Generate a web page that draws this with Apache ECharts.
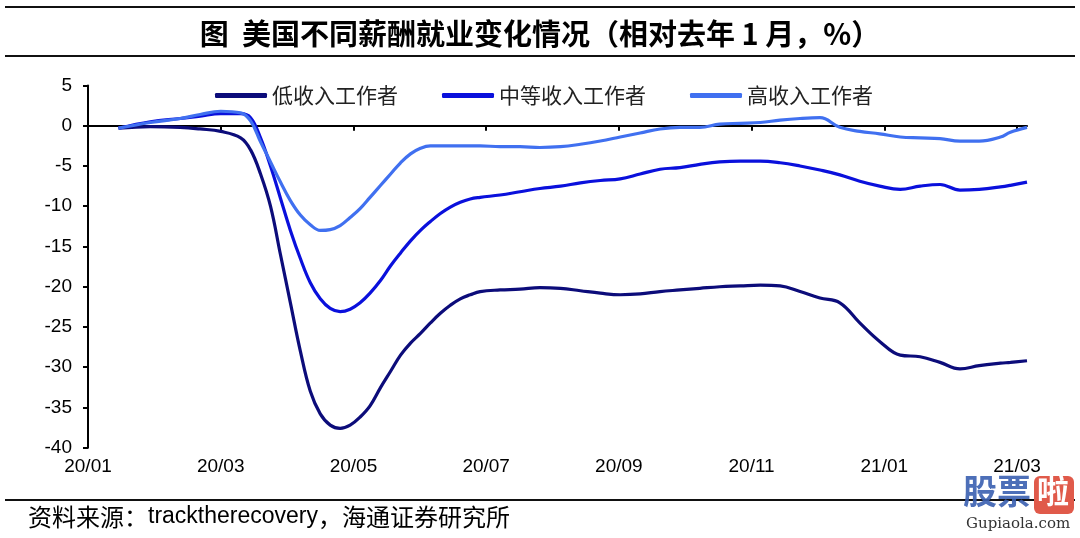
<!DOCTYPE html>
<html>
<head>
<meta charset="utf-8">
<script src="https://cdn.jsdelivr.net/npm/echarts@6/dist/echarts.min.js"></script>
<style>
html,body{margin:0;padding:0;background:#fff;}
#chart{width:1080px;height:538px;}
</style>
</head>
<body>
<div id="chart"></div>
<script>
// x positions in months since 2020-01
var months = [0.46,0.94,1.39,1.69,2.00,2.30,2.45,2.60,2.75,2.90,3.05,3.20,3.35,3.50,3.65,3.80,3.95,4.10,4.25,4.41,4.56,4.71,4.86,5.01,5.16,5.31,5.46,5.61,5.76,5.91,6.21,6.51,6.81,7.12,7.42,7.72,8.02,8.32,8.62,8.92,9.22,9.52,9.83,10.13,10.43,10.73,11.03,11.33,11.63,11.93,12.24,12.54,12.84,13.14,13.43,13.75,13.90,14.15];
var lowIncome = [-0.3,-0.1,-0.2,-0.4,-0.7,-1.5,-3,-6,-10,-16,-22,-28,-33,-35.8,-37.2,-37.6,-37.2,-36.2,-34.8,-32.5,-30.5,-28.5,-27,-25.8,-24.5,-23.3,-22.3,-21.5,-21,-20.6,-20.4,-20.3,-20.1,-20.2,-20.5,-20.8,-21.0,-20.9,-20.6,-20.4,-20.2,-20.0,-19.9,-19.8,-19.9,-20.6,-21.4,-22.0,-24.5,-26.8,-28.5,-28.7,-29.4,-30.2,-29.8,-29.5,-29.4,-29.2];
var midIncome = [-0.3,0.5,0.9,1.2,1.5,1.5,1.0,-1.5,-5,-9,-13,-16.5,-19.5,-21.5,-22.7,-23.1,-22.8,-22,-20.8,-19.2,-17.4,-15.8,-14.3,-13,-11.9,-10.9,-10.1,-9.5,-9.1,-8.9,-8.6,-8.2,-7.8,-7.5,-7.1,-6.8,-6.6,-6.0,-5.4,-5.2,-4.8,-4.5,-4.4,-4.4,-4.6,-5.0,-5.5,-6.1,-6.9,-7.5,-7.9,-7.5,-7.3,-8.0,-7.9,-7.6,-7.4,-7.0];
var highIncome = [-0.3,0.4,0.9,1.4,1.8,1.6,0.6,-2,-4.5,-7,-9.3,-11.1,-12.3,-13.0,-12.9,-12.4,-11.4,-10.3,-8.9,-7.4,-6.0,-4.6,-3.5,-2.8,-2.5,-2.5,-2.5,-2.5,-2.5,-2.5,-2.6,-2.6,-2.7,-2.6,-2.3,-1.9,-1.4,-0.9,-0.4,-0.2,-0.2,0.2,0.3,0.4,0.7,0.9,1.0,-0.2,-0.7,-1.0,-1.4,-1.5,-1.6,-1.9,-1.9,-1.4,-0.8,-0.2];
var seriesNames = ['低收入工作者','中等收入工作者','高收入工作者'];
var tickValues = [0,2,4,6,8,10,12,14];
var tickLabels = ['20/01','20/03','20/05','20/07','20/09','20/11','21/01','21/03'];
var titleText = '图  美国不同薪酬就业变化情况（相对去年 1 月，%）';
var sourceParts = ['资料来源：', 'tracktherecovery', '，海通证券研究所'];

function pairs(ys){ return ys.map(function(y,i){ return [months[i], y]; }); }

var chart = echarts.init(document.getElementById('chart'), null, {renderer:'canvas'});
var colors = ['#0c0c7a','#0a10dc','#4070f0'];
var font = '"Liberation Sans", Arial, sans-serif';
var cjk = '"Noto Sans CJK SC", sans-serif';

var option = {
  animation: false,
  backgroundColor: '#fff',
  color: colors,
  title: {
    text: titleText,
    left: 'center',
    top: 14,
    textStyle: {fontFamily: cjk, fontSize: 29, fontWeight: 'bold', color: '#000'}
  },
  legend: {
    left: 210, top: 80,
    itemWidth: 52, itemHeight: 5, itemGap: 44,
    icon: 'roundRect',
    textStyle: {fontFamily: cjk, fontSize: 21, color: '#222'},
    data: seriesNames
  },
  grid: {left: 88, right: 53, top: 85.5, bottom: 90.3, containLabel: false},
  xAxis: [{
    type: 'value', min: 0, max: 14.15, interval: 2,
    axisLine: {show: true, onZero: true, lineStyle: {color: '#000', width: 2}},
    axisTick: {show: true, length: 5, lineStyle: {color: '#000', width: 2}, customValues: tickValues},
    axisLabel: {show: false},
    splitLine: {show: false}
  },{
    type: 'value', min: 0, max: 14.15, interval: 2, position: 'bottom',
    axisLine: {show: false, onZero: false},
    axisTick: {show: false},
    splitLine: {show: false},
    axisLabel: {
      show: true, margin: 10, customValues: tickValues,
      fontFamily: font, fontSize: 19, color: '#000',
      formatter: function(v){ var i = Math.round(v/2); return tickLabels[i] || ''; }
    }
  }],
  yAxis: {
    type: 'value', min: -40, max: 5, interval: 5,
    axisLine: {show: true, lineStyle: {color: '#000', width: 2}},
    axisTick: {show: true, length: 5, lineStyle: {color: '#000', width: 2}},
    axisLabel: {fontFamily: font, fontSize: 19, color: '#000', margin: 16},
    splitLine: {show: false}
  },
  series: [
    {name: seriesNames[0], type: 'line', data: pairs(lowIncome), smooth: 0.4, showSymbol: false, lineStyle: {width: 3.2, color: colors[0]}, z: 3},
    {name: seriesNames[1], type: 'line', data: pairs(midIncome), smooth: 0.4, showSymbol: false, lineStyle: {width: 3.2, color: colors[1]}, z: 4},
    {name: seriesNames[2], type: 'line', data: pairs(highIncome), smooth: 0.4, showSymbol: false, lineStyle: {width: 3.2, color: colors[2]}, z: 5}
  ],
  graphic: [
    {type: 'line', shape: {x1: 5, y1: 7, x2: 1075, y2: 7}, style: {stroke: '#111', lineWidth: 2}},
    {type: 'line', shape: {x1: 5, y1: 56, x2: 1075, y2: 56}, style: {stroke: '#111', lineWidth: 2}},
    {type: 'line', shape: {x1: 5, y1: 500, x2: 1075, y2: 500}, style: {stroke: '#111', lineWidth: 2}},
    {type: 'text', left: 28, top: 505, style: {
      text: '{c|' + sourceParts[0] + '}{l|' + sourceParts[1] + '}{c|' + sourceParts[2] + '}',
      rich: {
        c: {fontFamily: cjk, fontSize: 24, fill: '#000', color: '#000'},
        l: {fontFamily: font, fontSize: 23, fill: '#000', color: '#000'}
      }
    }},
    {type: 'text', left: 963, top: 474, style: {text: '股票', font: 'bold 34px "Noto Sans CJK SC", sans-serif', fill: '#3a5fb0', opacity: 0.9}},
    {type: 'rect', shape: {x: 1034, y: 476, width: 40, height: 38, r: 6}, style: {fill: '#e05a4a'}},
    {type: 'text', left: 1037, top: 475, style: {text: '啦', font: 'bold 32px "Noto Sans CJK SC", sans-serif', fill: '#fff'}},
    {type: 'text', left: 966, top: 517, style: {text: 'Gupiaola.com', font: '15px "DejaVu Serif", serif', fill: '#333'}}
  ]
};
chart.setOption(option);
</script>
</body>
</html>
